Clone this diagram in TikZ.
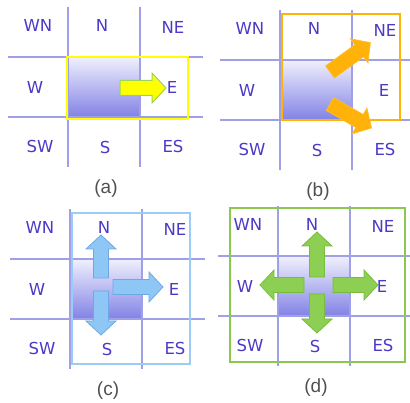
\documentclass[tikz,border=0pt]{standalone}
\usepackage{fontspec}
\setmainfont{DejaVu Sans}
\newfontfamily\capfont{Liberation Sans}
\definecolor{gridc}{HTML}{A0A0E8}
\definecolor{labelc}{HTML}{4B3AC6}
\definecolor{captc}{HTML}{505050}
\definecolor{celltop}{HTML}{F0F0FD}
\definecolor{cellbot}{HTML}{8282E6}
\definecolor{celledge}{HTML}{6A6AD0}
\definecolor{yelfill}{HTML}{FFFF00}
\definecolor{yeledge}{HTML}{98D45A}
\definecolor{orfill}{HTML}{FFB20A}
\definecolor{blfill}{HTML}{8EC6F6}
\definecolor{bledge}{HTML}{6EA8E6}
\definecolor{blframe}{HTML}{9CCBF5}
\definecolor{grfill}{HTML}{8DCF52}
\definecolor{gredge}{HTML}{76BD3C}
\definecolor{grframe}{HTML}{8CC850}

\tikzset{
  gridline/.style={draw=gridc, line width=1.2pt},
  lbl/.style={text=labelc, font=\fontsize{16.5}{16.5}\selectfont, inner sep=0pt},
  capt/.style={text=captc, font=\capfont\fontsize{19}{19}\selectfont, inner sep=0pt},
  yarrow/.style={fill=yelfill, draw=yeledge, line width=1pt},
  oarrow/.style={fill=orfill, draw=orfill!85!white, line width=0.6pt},
  barrow/.style={fill=blfill, draw=bledge, line width=0.8pt},
  garrow/.style={fill=grfill, draw=gredge, line width=0.8pt},
}

% block arrow: style, tail point, direction angle, total length
\newcommand\blockarrow[4]{%
  \begin{scope}[shift={#2}, rotate=#3]
    \draw[#1] (0,-7.5) -- ({#4-14},-7.5) -- ({#4-14},-15) -- (#4,0)
      -- ({#4-14},15) -- ({#4-14},7.5) -- (0,7.5) -- cycle;
  \end{scope}}

% 3x3 compass grid with the shaded centre cell; #1 = panel prefix, #2 = caption
\newcommand\compassgrid[2]{%
  \shade[top color=celltop, bottom color=cellbot] (0,0) rectangle (72,60);
  \draw[celledge, line width=1pt] (0,60) -- (72,60);
  \draw[gridline] (0,-50) -- (0,110);
  \draw[gridline] (72,-50) -- (72,110);
  \draw[gridline] (-60,0) -- (135,0);
  \draw[gridline] (-60,60) -- (135,60);
  \node[lbl] (#1wn) at (-30,-32) {WN};
  \node[lbl] (#1n)  at (34,-32)  {N};
  \node[lbl] (#1ne) at (105,-30) {NE};
  \node[lbl] (#1w)  at (-33,30)  {W};
  \node[lbl] (#1e)  at (104,30)  {E};
  \node[lbl] (#1sw) at (-28,89)  {SW};
  \node[lbl] (#1s)  at (37,90)   {S};
  \node[lbl] (#1es) at (105,89)  {ES};
  \node[capt] (#1cap) at (38,132) {#2};
}

\begin{document}
\begin{tikzpicture}[x=1pt, y=-1pt]
  \useasboundingbox (0,0) rectangle (410,403);
  \clip (0,0) rectangle (410,403);

  % (a) move east
  \begin{scope}[shift={(68,57)}]
    \compassgrid{a}{(a)}
    \draw[yelfill, line width=2.5pt] (-1,0) rectangle (120,62);
    \blockarrow{yarrow}{(52,31)}{0}{46}
  \end{scope}

  % (b) diagonal moves
  \begin{scope}[shift={(280,60)}]
    \compassgrid{b}{(b)}
    \draw[orfill, line width=1.6pt] (2,-46) rectangle (120,60);
    \blockarrow{oarrow}{(50,12)}{36}{50}
    \blockarrow{oarrow}{(50,44)}{-30}{48}
  \end{scope}

  % (c) three directions
  \begin{scope}[shift={(70,259)}]
    \compassgrid{c}{(c)}
    \draw[blframe, line width=1.8pt] (2,-46) rectangle (120,105);
    \blockarrow{barrow}{(31,19)}{90}{43}
    \blockarrow{barrow}{(43,28)}{0}{50}
    \blockarrow{barrow}{(31,32)}{-90}{44}
  \end{scope}

  % (d) four directions
  \begin{scope}[shift={(278,256)}]
    \compassgrid{d}{(d)}
    \draw[grframe, line width=1.8pt] (-48,-48) rectangle (127,106);
    \blockarrow{garrow}{(39,21)}{90}{45}
    \blockarrow{garrow}{(55,29)}{0}{45}
    \blockarrow{garrow}{(26,29)}{180}{44}
    \blockarrow{garrow}{(39,38)}{-90}{39}
  \end{scope}
\end{tikzpicture}
\end{document}
